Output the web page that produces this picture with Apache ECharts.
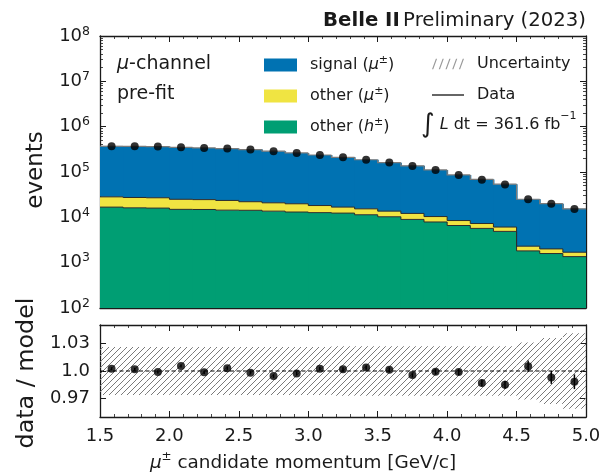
<!DOCTYPE html>
<html>
<head>
<meta charset="utf-8">
<script src="https://cdn.jsdelivr.net/npm/echarts@6/dist/echarts.min.js"></script>
<style>
  html, body { margin: 0; padding: 0; background: #fff; }
  #chart { width: 604px; height: 474px; }
</style>
</head>
<body>
<div id="chart"></div>
<script>
// Momentum bin edges [GeV/c]
const binEdges = [1.5, 1.6667, 1.8333, 2.0, 2.1667, 2.3333, 2.5, 2.6667, 2.8333, 3.0, 3.1667,
                  3.3333, 3.5, 3.6667, 3.8333, 4.0, 4.1667, 4.3333, 4.5, 4.6667, 4.8333, 5.0];

// Expected events per bin, by component
const otherH   = [16800, 16200, 16000, 15000, 14900, 14400, 14300, 13700, 13100, 12700, 12400,
                  11400, 10300, 9000, 7900, 6600, 5700, 4900, 1820, 1590, 1360];
const otherMu  = [11500, 11200, 11000, 10000, 9700, 9200, 7800, 7200, 6800, 5500, 4400,
                  4000, 3400, 3200, 2500, 1900, 1600, 1200, 490, 420, 340];
const signalMu = [341800, 341900, 336400, 323100, 315900, 303400, 290500, 267700, 243800, 219200, 193800,
                  170900, 147100, 124400, 100700, 77600, 61300, 47700, 22760, 18030, 13680];

// Observed events per bin
const dataCounts = [371000, 370000, 363000, 350000, 340000, 328000, 312000, 287000, 263000, 238000, 211000,
                    187000, 161000, 136000, 111000, 86000, 67700, 53000, 25200, 19900, 15200];

// Statistical error on data/model per bin
const ratioErr = [0.0017, 0.0017, 0.0017, 0.0017, 0.0017, 0.0018, 0.0018, 0.0019, 0.0020, 0.0021, 0.0022,
                  0.0023, 0.0025, 0.0027, 0.0030, 0.0034, 0.0038, 0.0043, 0.0063, 0.0070, 0.0080];

// Relative model uncertainty per bin
const relUnc = [0.026, 0.026, 0.026, 0.026, 0.026, 0.026, 0.026, 0.026, 0.026, 0.026, 0.027,
                0.027, 0.027, 0.027, 0.027, 0.027, 0.027, 0.027, 0.031, 0.036, 0.041];

// Axis tick labels
const logTicks = [1e2, 1e3, 1e4, 1e5, 1e6, 1e7, 1e8];
const ratioTicks = [0.97, 1.0, 1.03];
const ratioTickText = { '0.97': '0.97', '1': '1.0', '1.03': '1.03' };

const FONT = 'DejaVu Sans';
const INK = '#1a1a1a';
const COL_SIGNAL = '#0072B2';
const COL_OTHER_MU = '#F0E442';
const COL_OTHER_H = '#009E73';

// --- derived stack boundaries ---
const nBins = dataCounts.length;
const Y_MIN = 1e2, Y_MAX = 1e8;
const topH = [], topMu = [], topSig = [];
for (let i = 0; i < nBins; i++) {
  topH.push(otherH[i]);
  topMu.push(otherH[i] + otherMu[i]);
  topSig.push(otherH[i] + otherMu[i] + signalMu[i]);
}

function layerRows(bottom, top) {
  const rows = [];
  for (let i = 0; i < nBins; i++) {
    const b = bottom ? bottom[i] : Y_MIN;
    rows.push([binEdges[i], binEdges[i + 1], b, top[i], i > 0 ? top[i - 1] : top[i]]);
  }
  return rows;
}

// filled bin; widened by one pixel so neighbouring bins join without seams
function fillRender(color) {
  return function (params, api) {
    const p0 = api.coord([api.value(0), api.value(3)]);
    const p1 = api.coord([api.value(1), api.value(2)]);
    return {
      type: 'rect',
      shape: { x: p0[0], y: p0[1], width: p1[0] - p0[0] + 1, height: p1[1] - p0[1] },
      style: { fill: color }
    };
  };
}

function edgeRender(color, width) {
  return function (params, api) {
    const lo = api.value(0), hi = api.value(1), t = api.value(3), pt = api.value(4);
    return {
      type: 'polyline',
      shape: { points: [api.coord([lo, pt]), api.coord([lo, t]), api.coord([hi, t])] },
      style: { stroke: color, lineWidth: width, fill: null }
    };
  };
}

// diagonal hatch tile for the uncertainty band
function hatchTile() {
  const s = 6;
  const c = document.createElement('canvas');
  c.width = s; c.height = s;
  const g = c.getContext('2d');
  g.strokeStyle = '#7a7a7a';
  g.lineWidth = 1;
  g.beginPath();
  g.moveTo(0, s); g.lineTo(s, 0);
  g.moveTo(-1, 1); g.lineTo(1, -1);
  g.moveTo(s - 1, s + 1); g.lineTo(s + 1, s - 1);
  g.stroke();
  return c;
}
const hatch = { image: hatchTile(), repeat: 'repeat' };

const centers = [];
for (let i = 0; i < nBins; i++) centers.push((binEdges[i] + binEdges[i + 1]) / 2);
const dataPts = dataCounts.map((v, i) => [centers[i], v]);
const ratioPts = dataCounts.map((v, i) => [centers[i], v / topSig[i], ratioErr[i]]);
const bandRows = relUnc.map((u, i) => [binEdges[i], binEdges[i + 1], 1 - u, 1 + u]);

const minorLog = [];
for (let e = 2; e < 8; e++) for (let m = 2; m <= 9; m++) minorLog.push(m * Math.pow(10, e));

const GRID_TOP = { left: 100, top: 36, width: 486, height: 272 };
const GRID_RATIO = { left: 100, top: 325, width: 486, height: 92 };

const frameLine = { show: true, onZero: false, lineStyle: { color: INK, width: 1.3 } };
const tickIn = (len) => ({ show: true, inside: true, length: len, lineStyle: { color: INK, width: 1 } });

function xAxisDef(grid, pos, labels) {
  return {
    type: 'value', gridIndex: grid, position: pos, min: 1.5, max: 5.0, interval: 0.5,
    axisLine: frameLine, axisTick: tickIn(6),
    minorTick: { show: true, splitNumber: 5, length: 3, lineStyle: { color: INK, width: 0.8 } },
    splitLine: { show: false }, minorSplitLine: { show: false },
    axisLabel: labels ? {
      show: true, margin: 10, fontFamily: FONT, fontSize: 18, color: INK,
      formatter: v => v.toFixed(1)
    } : { show: false }
  };
}

function logAxisDef(pos, labels) {
  return {
    type: 'log', logBase: 10, gridIndex: 0, position: pos, min: Y_MIN, max: Y_MAX,
    axisLine: frameLine,
    axisTick: Object.assign(tickIn(6), { customValues: logTicks }),
    splitLine: { show: false },
    axisLabel: labels ? {
      show: true, margin: 10, customValues: logTicks, fontFamily: FONT, color: INK,
      formatter: v => '{b|10}{s|' + Math.round(Math.log10(v)) + '}',
      rich: {
        b: { fontFamily: FONT, fontSize: 18, color: INK, lineHeight: 22 },
        s: { fontFamily: FONT, fontSize: 12.5, color: INK, lineHeight: 12, verticalAlign: 'top' }
      }
    } : { show: false }
  };
}

function logMinorAxisDef(pos) {
  return {
    type: 'log', logBase: 10, gridIndex: 0, position: pos, min: Y_MIN, max: Y_MAX,
    axisLine: { show: false },
    axisTick: Object.assign(tickIn(3), { customValues: minorLog, lineStyle: { color: INK, width: 0.8 } }),
    axisLabel: { show: false }, splitLine: { show: false }
  };
}

function ratioAxisDef(pos, labels) {
  return {
    type: 'value', gridIndex: 1, position: pos, min: 0.95, max: 1.05,
    axisLine: frameLine,
    axisTick: Object.assign(tickIn(6), { customValues: ratioTicks }),
    splitLine: { show: false },
    axisLabel: labels ? {
      show: true, margin: 10, customValues: ratioTicks, fontFamily: FONT, fontSize: 18, color: INK,
      formatter: v => ratioTickText[String(Math.round(v * 100) / 100)] || ''
    } : { show: false }
  };
}

const legendRich = {
  g: { width: 8 },
  t: { fontFamily: FONT, fontSize: 16, color: INK, lineHeight: 20 },
  i: { fontFamily: FONT, fontSize: 16, fontStyle: 'italic', color: INK, lineHeight: 20 },
  s: { fontFamily: FONT, fontSize: 11, color: INK, lineHeight: 11, verticalAlign: 'top' }
};
const legendText = {
  'signal (μ±)': '{g| }{t|signal (}{i|μ}{s|±}{t|)}',
  'other (μ±)': '{g| }{t|other (}{i|μ}{s|±}{t|)}',
  'other (h±)': '{g| }{t|other (}{i|h}{s|±}{t|)}',
  'Uncertainty': '{g| }{t|Uncertainty}',
  'Data': '{g| }{t|Data}'
};

const hatchIcon = 'path://M0,11L1.3,11L5.3,0L4,0Z M7,11L8.3,11L12.3,0L11,0Z M14,11L15.3,11L19.3,0L18,0Z M21,11L22.3,11L26.3,0L25,0Z M28,11L29.3,11L33.3,0L32,0Z';
const lineIcon = 'path://M0,0L32,0L32,1.5L0,1.5Z';

const option = {
  animation: false,
  backgroundColor: '#fff',
  grid: [GRID_TOP, GRID_RATIO],
  xAxis: [
    xAxisDef(0, 'bottom', false),
    xAxisDef(0, 'top', false),
    xAxisDef(1, 'bottom', true),
    xAxisDef(1, 'top', false)
  ],
  yAxis: [
    logAxisDef('left', true),
    logAxisDef('right', false),
    logMinorAxisDef('left'),
    logMinorAxisDef('right'),
    ratioAxisDef('left', true),
    ratioAxisDef('right', false)
  ],
  legend: [
    {
      orient: 'vertical', left: 264, top: 55, padding: 0, itemGap: 13,
      itemWidth: 33, itemHeight: 13, icon: 'rect', selectedMode: false,
      data: ['signal (μ±)', 'other (μ±)', 'other (h±)'],
      formatter: n => legendText[n],
      textStyle: { fontFamily: FONT, fontSize: 16, color: INK, rich: legendRich }
    },
    {
      orient: 'vertical', left: 432, top: 56, padding: 0, itemGap: 15,
      itemWidth: 32, itemHeight: 11, selectedMode: false,
      data: [
        { name: 'Uncertainty', icon: hatchIcon, itemStyle: { color: '#9a9a9a' } },
        { name: 'Data', icon: lineIcon, itemStyle: { color: '#000' } }
      ],
      formatter: n => legendText[n],
      textStyle: { fontFamily: FONT, fontSize: 16, color: INK, rich: legendRich }
    }
  ],
  graphic: [
    {
      type: 'text', x: 586, y: 21,
      style: {
        text: '{b|Belle II} {n|Preliminary (2023)}', align: 'right', verticalAlign: 'middle',
        rich: {
          b: { fontFamily: FONT, fontSize: 19.7, fontWeight: 'bold', fill: INK },
          n: { fontFamily: FONT, fontSize: 19.7, fill: INK }
        }
      }
    },
    {
      type: 'text', x: 117, y: 64,
      style: {
        text: '{i|μ}{t|-channel}', verticalAlign: 'middle',
        rich: {
          i: { fontFamily: FONT, fontSize: 19, fontStyle: 'italic', fill: INK },
          t: { fontFamily: FONT, fontSize: 19, fill: INK }
        }
      }
    },
    {
      type: 'text', x: 117, y: 94,
      style: { text: 'pre-fit', verticalAlign: 'middle', fontFamily: FONT, fontSize: 19, fill: INK }
    },
    {
      type: 'text', x: 421, y: 125,
      style: {
        text: '{int|∫}{i| L}{t| dt = 361.6 fb}{s|−1}', verticalAlign: 'middle',
        rich: {
          int: { fontFamily: FONT, fontSize: 26, fill: INK, lineHeight: 28 },
          i: { fontFamily: FONT, fontSize: 16, fontStyle: 'italic', fill: INK, lineHeight: 28 },
          t: { fontFamily: FONT, fontSize: 16, fill: INK, lineHeight: 28 },
          s: { fontFamily: FONT, fontSize: 11, fill: INK, lineHeight: 20, verticalAlign: 'top' }
        }
      }
    },
    {
      type: 'text', x: 36, y: 170, rotation: Math.PI / 2,
      style: { text: 'events', align: 'center', verticalAlign: 'middle', fontFamily: FONT, fontSize: 23, fill: INK }
    },
    {
      type: 'text', x: 27, y: 373, rotation: Math.PI / 2,
      style: { text: 'data / model', align: 'center', verticalAlign: 'middle', fontFamily: FONT, fontSize: 23.8, fill: INK }
    },
    {
      type: 'text', x: 303, y: 463,
      style: {
        text: '{i|μ}{s|±}{t| candidate momentum [GeV/c]}', align: 'center', verticalAlign: 'middle',
        rich: {
          i: { fontFamily: FONT, fontSize: 18.4, fontStyle: 'italic', fill: INK, lineHeight: 24 },
          s: { fontFamily: FONT, fontSize: 12, fill: INK, lineHeight: 15, verticalAlign: 'top' },
          t: { fontFamily: FONT, fontSize: 18.4, fill: INK, lineHeight: 24 }
        }
      }
    }
  ],
  series: [
    {
      name: 'other (h±)', type: 'custom', xAxisIndex: 0, yAxisIndex: 0, clip: true, z: 2,
      itemStyle: { color: COL_OTHER_H },
      renderItem: fillRender(COL_OTHER_H), data: layerRows(null, topH),
      encode: { x: [0, 1], y: [2, 3] }
    },
    {
      name: 'other (μ±)', type: 'custom', xAxisIndex: 0, yAxisIndex: 0, clip: true, z: 2,
      itemStyle: { color: COL_OTHER_MU },
      renderItem: fillRender(COL_OTHER_MU), data: layerRows(topH, topMu),
      encode: { x: [0, 1], y: [2, 3] }
    },
    {
      name: 'signal (μ±)', type: 'custom', xAxisIndex: 0, yAxisIndex: 0, clip: true, z: 2,
      itemStyle: { color: COL_SIGNAL },
      renderItem: fillRender(COL_SIGNAL), data: layerRows(topMu, topSig),
      encode: { x: [0, 1], y: [2, 3] }
    },
    {
      type: 'custom', xAxisIndex: 0, yAxisIndex: 0, clip: true, z: 3, silent: true,
      renderItem: edgeRender('#2b2b2b', 1), data: layerRows(null, topH),
      encode: { x: [0, 1], y: [2, 3] }
    },
    {
      type: 'custom', xAxisIndex: 0, yAxisIndex: 0, clip: true, z: 3, silent: true,
      renderItem: edgeRender('#2b2b2b', 1), data: layerRows(topH, topMu),
      encode: { x: [0, 1], y: [2, 3] }
    },
    {
      type: 'custom', xAxisIndex: 0, yAxisIndex: 0, clip: true, z: 3, silent: true,
      renderItem: edgeRender('#7a7a7a', 1.2), data: layerRows(topMu, topSig),
      encode: { x: [0, 1], y: [2, 3] }
    },
    {
      name: 'Data', type: 'scatter', xAxisIndex: 0, yAxisIndex: 0, z: 5,
      symbol: 'circle', symbolSize: 8, itemStyle: { color: '#000' },
      data: dataPts
    },
    // ratio panel
    {
      name: 'Uncertainty', type: 'custom', xAxisIndex: 2, yAxisIndex: 4, clip: true, z: 2,
      itemStyle: { color: '#9a9a9a' },
      renderItem: function (params, api) {
        const p0 = api.coord([api.value(0), api.value(3)]);
        const p1 = api.coord([api.value(1), api.value(2)]);
        return {
          type: 'rect',
          shape: { x: p0[0], y: p0[1], width: p1[0] - p0[0], height: p1[1] - p0[1] },
          style: { fill: hatch }
        };
      },
      data: bandRows, encode: { x: [0, 1], y: [2, 3] }
    },
    {
      type: 'line', xAxisIndex: 2, yAxisIndex: 4, z: 3, silent: true,
      symbol: 'none', data: [[1.5, 1], [5.0, 1]],
      lineStyle: { color: '#000', width: 1.2, type: [4, 2.5] }
    },
    {
      type: 'custom', xAxisIndex: 2, yAxisIndex: 4, z: 4, silent: true,
      renderItem: function (params, api) {
        const x = api.value(0), r = api.value(1), e = api.value(2);
        const a = api.coord([x, r - e]), b = api.coord([x, r + e]);
        return { type: 'line', shape: { x1: a[0], y1: a[1], x2: b[0], y2: b[1] },
                 style: { stroke: '#000', lineWidth: 1.5 } };
      },
      data: ratioPts, encode: { x: 0, y: 1 }
    },
    {
      type: 'scatter', xAxisIndex: 2, yAxisIndex: 4, z: 5,
      symbol: 'circle', symbolSize: 8, itemStyle: { color: '#000' },
      data: ratioPts.map(p => [p[0], p[1]])
    }
  ]
};

const chart = echarts.init(document.getElementById('chart'), null, { renderer: 'canvas' });
chart.setOption(option);
</script>
</body>
</html>
